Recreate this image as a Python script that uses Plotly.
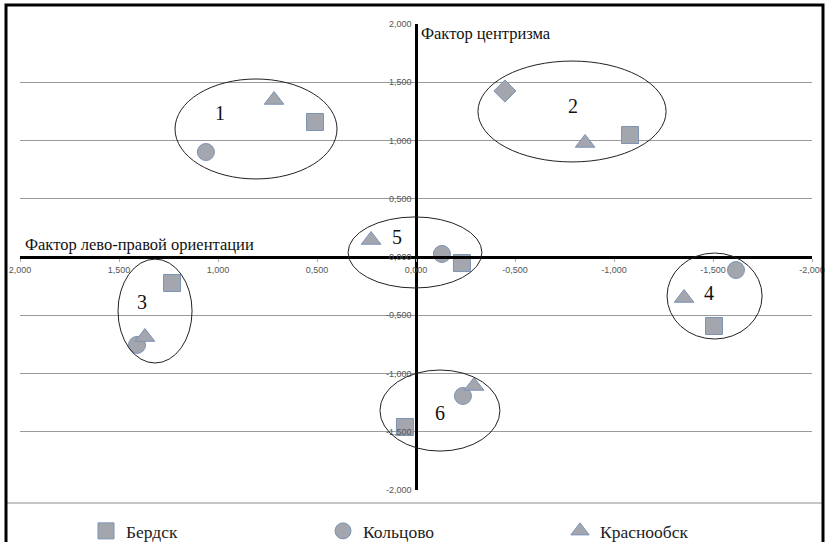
import plotly.graph_objects as go

# ---- data ----
series_names = ["Бердск", "Кольцово", "Краснообск"]
berdsk_x = [0.51, -1.081, 1.232, -1.505, -0.232, 0.056]
berdsk_y = [1.159, 1.047, -0.223, -0.592, -0.052, -1.459]
koltsovo_x = [1.061, 1.409, -1.616, -0.131, -0.237]
koltsovo_y = [0.901, -0.755, -0.112, 0.026, -1.193]
krasnoobsk_x = [0.717, -0.854, 1.369, -1.354, 0.227, -0.293]
krasnoobsk_y = [1.348, 0.979, -0.687, -0.352, 0.146, -1.107]
extra_x = [-0.449]
extra_y = [1.425]

cluster_labels = ["1", "2", "3", "4", "5", "6"]
cluster_cx = [0.808, -0.788, 1.318, -1.508, 0.005, -0.121]
cluster_cy = [1.099, 1.249, -0.464, -0.335, 0.039, -1.318]
cluster_rx = [0.409, 0.475, 0.187, 0.24, 0.338, 0.303]
cluster_ry = [0.429, 0.433, 0.446, 0.369, 0.305, 0.348]
label_x = [0.99, -0.793, 1.384, -1.48, 0.096, -0.121]
label_y = [1.236, 1.296, -0.386, -0.309, 0.172, -1.339]

tick_vals = [2, 1.5, 1, 0.5, 0, -0.5, -1, -1.5, -2]
tick_text = ["2,000", "1,500", "1,000", "0,500", "0,000", "-0,500", "-1,000", "-1,500", "-2,000"]

x_title = "Фактор лево-правой ориентации"
y_title = "Фактор центризма"

FILL = "#A3A6AD"
EDGE = "#7B93B6"

W, H = 829, 542
ML, MR, MT, MB = 20, 17, 24, 52
PW, PH = W - ML - MR, H - MT - MB

def px(xpix):
    return (xpix - ML) / PW

def py(ypix):
    return (H - MB - ypix) / PH

fig = go.Figure()

def add(name, xs, ys, symbol, show=True):
    fig.add_trace(go.Scatter(
        x=xs, y=ys, mode="markers", name=name, showlegend=show,
        marker=dict(symbol=symbol, size=17, color=FILL,
                    line=dict(color=EDGE, width=1)),
    ))

add(series_names[0], berdsk_x, berdsk_y, "square")
add(series_names[1], koltsovo_x, koltsovo_y, "circle")
add(series_names[2], krasnoobsk_x, krasnoobsk_y, "triangle-up")
add("", extra_x, extra_y, "diamond", show=False)

shapes = []
for cx, cy, rx, ry in zip(cluster_cx, cluster_cy, cluster_rx, cluster_ry):
    shapes.append(dict(type="circle", xref="x", yref="y",
                       x0=cx - rx, x1=cx + rx, y0=cy - ry, y1=cy + ry,
                       line=dict(color="#222222", width=1), layer="above"))
# separator line and outer border
shapes.append(dict(type="line", xref="paper", yref="paper",
                   x0=px(6), x1=px(823), y0=py(503), y1=py(503),
                   line=dict(color="#8c8c8c", width=1)))
shapes.append(dict(type="rect", xref="paper", yref="paper",
                   x0=px(6), x1=px(823), y0=py(548), y1=py(5),
                   line=dict(color="black", width=3)))

annotations = []
for t, lx, ly in zip(cluster_labels, label_x, label_y):
    annotations.append(dict(x=lx, y=ly, xref="x", yref="y", text=t, showarrow=False,
                            font=dict(family="Liberation Serif", size=20, color="#111")))
annotations.append(dict(x=1.985, y=0.0, xref="x", yref="y", text=x_title, showarrow=False,
                        xanchor="left", yanchor="bottom", yshift=1,
                        font=dict(family="Liberation Serif", size=16.5, color="#111")))
annotations.append(dict(x=-0.015, y=2.0, xref="x", yref="y", text=y_title, showarrow=False,
                        xanchor="left", yanchor="top", yshift=2,
                        font=dict(family="Liberation Serif", size=16.5, color="#111")))

fig.update_layout(
    width=W, height=H,
    margin=dict(l=ML, r=MR, t=MT, b=MB, autoexpand=False),
    paper_bgcolor="white", plot_bgcolor="white",
    shapes=shapes, annotations=annotations,
    showlegend=True,
    legend=dict(orientation="h", x=px(86), y=py(531), xanchor="left", yanchor="middle",
                entrywidth=192, entrywidthmode="pixels",
                font=dict(family="Liberation Serif", size=17.5, color="#222"),
                itemsizing="trace", bgcolor="rgba(0,0,0,0)"),
    xaxis=dict(range=[2, -2], tickvals=tick_vals, ticktext=tick_text,
               anchor="free", position=0.5, showgrid=False, zeroline=False,
               showline=True, linecolor="black", linewidth=2.5,
               ticks="outside", ticklen=3, tickcolor="#aaaaaa",
               tickfont=dict(family="Liberation Sans", size=9, color="#555")),
    yaxis=dict(range=[-2, 2], tickvals=tick_vals, ticktext=tick_text,
               anchor="free", position=0.5, showgrid=True, gridcolor="#9a9a9a", gridwidth=1,
               zeroline=False, showline=True, linecolor="black", linewidth=2.5,
               ticks="", ticklabelstandoff=2,
               tickfont=dict(family="Liberation Sans", size=9, color="#555")),
)

fig.write_html("out.html", config={"displayModeBar": False},
               post_script="document.body.style.margin='0px';document.body.style.overflow='hidden';")
